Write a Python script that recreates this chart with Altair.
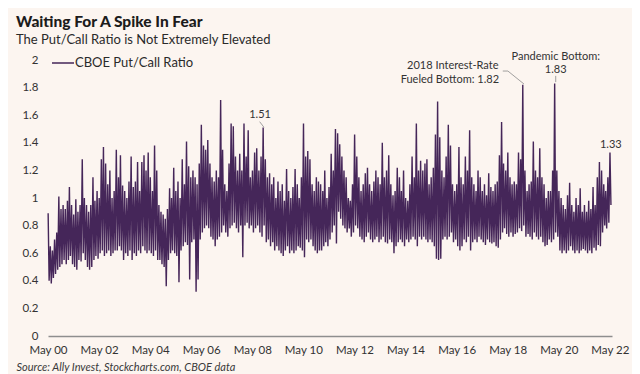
import altair as alt
import pandas as pd

# Monthly (high, low) pairs of the daily CBOE put/call ratio
y2000 = [0.89,0.40, 0.65,0.38, 0.62,0.42, 0.70,0.45, 0.75,0.48, 1.01,0.50, 0.92,0.52, 0.95,0.55]
y2001 = [0.92,0.52, 0.98,0.55, 1.08,0.58, 0.95,0.52, 0.88,0.50, 0.99,0.48, 0.90,0.55, 0.95,0.54, 1.28,0.60, 1.00,0.55, 0.95,0.50, 0.90,0.48]
y2002 = [0.95,0.50, 1.15,0.55, 0.98,0.58, 1.05,0.56, 1.00,0.60, 1.28,0.62, 1.37,0.58, 1.25,0.60, 1.10,0.62, 1.20,0.58, 1.00,0.60, 1.05,0.62]
y2003 = [1.35,0.62, 1.15,0.65, 1.31,0.62, 1.09,0.55, 1.05,0.60, 1.00,0.58, 1.12,0.62, 1.30,0.55, 1.08,0.60, 1.12,0.58, 1.26,0.62, 1.05,0.60]
y2004 = [1.26,0.65, 1.31,0.62, 1.20,0.60, 1.33,0.62, 1.15,0.60, 1.05,0.58, 1.38,0.62, 1.20,0.55, 0.95,0.55, 0.90,0.52, 0.88,0.50, 0.85,0.36]
y2005 = [0.92,0.55, 1.07,0.60, 1.00,0.62, 1.22,0.60, 1.05,0.58, 1.12,0.39, 1.00,0.62, 1.28,0.65, 1.10,0.68, 1.41,0.66, 1.23,0.41, 1.15,0.68]
y2006 = [1.20,0.70, 1.15,0.32, 1.10,0.41, 1.25,0.70, 1.53,0.75, 1.38,0.78, 1.35,0.80, 1.42,0.78, 1.25,0.72, 1.15,0.70, 1.12,0.65, 1.20,0.70]
y2007 = [1.15,0.72, 1.71,0.75, 1.35,0.80, 1.10,0.75, 1.05,0.72, 1.25,0.78, 1.54,0.80, 1.52,0.82, 1.30,0.78, 1.20,0.75, 1.32,0.80, 1.20,0.57]
y2008 = [1.54,0.80, 1.30,0.82, 1.49,0.78, 1.15,0.80, 1.20,0.75, 1.33,0.78, 1.36,0.80, 1.20,0.75, 1.30,0.72, 1.51,0.80, 1.28,0.68, 1.15,0.70]
y2009 = [1.18,0.65, 1.10,0.68, 1.15,0.62, 1.00,0.65, 1.12,0.62, 1.05,0.60, 1.10,0.58, 0.98,0.62, 1.21,0.65, 1.05,0.60, 1.00,0.62, 1.08,0.60]
y2010 = [1.21,0.62, 1.10,0.65, 1.00,0.64, 1.15,0.62, 1.54,0.57, 1.30,0.70, 1.34,0.68, 1.28,0.70, 1.10,0.65, 1.05,0.62, 1.15,0.60, 1.12,0.62]
y2011 = [1.10,0.62, 1.05,0.65, 1.20,0.68, 1.00,0.65, 1.08,0.70, 1.32,0.75, 1.20,0.80, 1.50,0.67, 1.47,0.90, 1.39,0.85, 1.30,0.80, 1.20,0.78]
y2012 = [1.15,0.75, 1.00,0.78, 0.98,0.72, 1.10,0.75, 1.46,0.80, 1.30,0.78, 1.15,0.72, 1.05,0.70, 1.10,0.68, 1.18,0.72, 1.22,0.75, 1.10,0.70]
y2013 = [1.05,0.68, 1.12,0.70, 1.20,0.72, 1.15,0.68, 1.10,0.70, 1.40,0.72, 1.15,0.68, 1.20,0.67, 1.31,0.70, 1.10,0.68, 1.02,0.60, 1.05,0.65]
y2014 = [1.22,0.68, 1.15,0.70, 1.05,0.68, 1.20,0.65, 1.00,0.70, 0.98,0.68, 1.10,0.70, 1.30,0.72, 1.15,0.70, 1.54,0.65, 1.20,0.72, 1.27,0.70]
y2015 = [1.20,0.72, 1.25,0.70, 1.28,0.68, 1.10,0.70, 1.15,0.68, 1.22,0.65, 1.46,0.56, 1.70,0.55, 1.44,0.56, 1.20,0.70, 1.15,0.72, 1.30,0.70]
y2016 = [1.53,0.72, 1.38,0.75, 1.10,0.68, 1.05,0.70, 1.10,0.65, 1.37,0.62, 1.15,0.65, 1.10,0.70, 1.30,0.68, 1.20,0.72, 1.49,0.62, 1.15,0.68]
y2017 = [1.10,0.70, 1.05,0.68, 1.20,0.72, 1.15,0.70, 1.05,0.68, 1.10,0.66, 1.02,0.70, 1.18,0.68, 1.08,0.67, 1.05,0.68, 1.10,0.65, 1.12,0.64]
y2018 = [1.31,0.70, 1.55,0.75, 1.25,0.78, 1.20,0.74, 1.33,0.72, 1.15,0.75, 1.10,0.72, 1.12,0.74, 1.10,0.75, 1.33,0.78, 1.28,0.76, 1.82,0.80]
y2019 = [1.20,0.72, 1.05,0.74, 1.10,0.72, 1.12,0.70, 1.41,0.75, 1.20,0.72, 1.15,0.70, 1.36,0.72, 1.15,0.68, 1.10,0.65, 1.00,0.66, 1.05,0.70]
y2020 = [1.05,0.68, 1.20,0.70, 1.83,0.75, 1.20,0.72, 1.05,0.62, 1.00,0.60, 0.95,0.62, 0.92,0.60, 1.02,0.62, 1.11,0.65, 0.95,0.62, 0.90,0.60]
y2021 = [1.00,0.62, 0.95,0.60, 1.07,0.62, 0.90,0.63, 0.95,0.62, 0.90,0.60, 0.98,0.62, 0.92,0.60, 1.08,0.64, 0.95,0.62, 1.15,0.66, 1.26,0.65]
y2022 = [1.20,0.75, 1.10,0.80, 1.05,0.78, 1.15,0.82, 1.33,0.95]

years = list(range(2000, 2023))
yearly = [y2000, y2001, y2002, y2003, y2004, y2005, y2006, y2007, y2008, y2009, y2010,
          y2011, y2012, y2013, y2014, y2015, y2016, y2017, y2018, y2019, y2020, y2021, y2022]
first_month = {2000: 5}

SERIES = "CBOE Put/Call Ratio"
rows = []
for yr, arr in zip(years, yearly):
    m0 = first_month.get(yr, 1)
    for i in range(0, len(arr), 2):
        m = m0 + i // 2
        rows.append({"date": f"{yr}-{m:02d}-03", "ratio": arr[i], "series": SERIES})
        rows.append({"date": f"{yr}-{m:02d}-17", "ratio": arr[i + 1], "series": SERIES})
df = pd.DataFrame(rows)

# Annotations
ann_text = ["1.51", "2018 Interest-Rate", "Fueled Bottom: 1.82", "Pandemic Bottom:", "1.83", "1.33"]
ann_date = ["2008-08-20", "2016-03-07", "2016-01-25", "2020-03-18", "2020-03-18", "2022-05-15"]
ann_val = [1.60, 1.955, 1.855, 2.02, 1.925, 1.385]
ann_df = pd.DataFrame({"text": ann_text, "date": ann_date, "value": ann_val})

lead_id = ["a", "a", "b", "b", "b", "c", "c"]
lead_date = ["2008-08-14", "2008-10-15", "2018-02-20", "2018-05-04", "2018-12-20", "2020-03-18", "2020-03-18"]
lead_val = [1.553, 1.512, 1.92, 1.92, 1.826, 1.885, 1.84]
lead_df = pd.DataFrame({"id": lead_id, "date": lead_date, "value": lead_val})

FONT = "Lato"
xdomain = [alt.DateTime(year=2000, month=5, date=1), alt.DateTime(year=2022, month=6, date=1)]
xticks = [alt.DateTime(year=y, month=5, date=1) for y in range(2000, 2023, 2)]
yticks = [0, 0.2, 0.4, 0.6, 0.8, 1.0, 1.2, 1.4, 1.6, 1.8, 2.0]

xscale = alt.Scale(domain=xdomain)
yscale = alt.Scale(domain=[0, 2], nice=False)

xaxis = alt.Axis(values=xticks, format="%b %y", labelFlush=False, ticks=False, grid=False,
                 domainColor="#8e8e8e", domainWidth=1.5, labelPadding=8,
                 labelFontSize=11.5, labelColor="#333333", labelFont=FONT,
                 labelOverlap=False,
                 title="Source: Ally Invest, Stockcharts.com, CBOE data",
                 titleFont=FONT, titleFontStyle="italic", titleFontWeight="normal",
                 titleFontSize=11, titleColor="#3a3a3a", titleAlign="left",
                 titleBaseline="alphabetic", titleX=-32, titleY=34)
yaxis = alt.Axis(values=yticks, format="~g", domain=False, ticks=False, grid=False,
                 labelOverlap=False, labelFlush=False,
                 labelPadding=10, labelFontSize=11.5, labelColor="#333333",
                 labelFont=FONT, title=None)

line = alt.Chart(df).mark_line(strokeWidth=1.4, opacity=0.95).encode(
    x=alt.X("date:T", scale=xscale, axis=xaxis),
    y=alt.Y("ratio:Q", scale=yscale, axis=yaxis),
    color=alt.Color("series:N", scale=alt.Scale(domain=[SERIES], range=["#3b1a50"]),
                    legend=alt.Legend(title=None, orient="none", legendX=3, legendY=-9,
                                      symbolType="stroke", symbolSize=484, symbolStrokeWidth=1.5,
                                      labelFontSize=13, labelFont=FONT, labelColor="#2a2a2a",
                                      labelOffset=0, padding=0)),
    order="date:T",
)

leaders = alt.Chart(lead_df).mark_line(strokeWidth=0.8, color="#8a8a8a").encode(
    x=alt.X("date:T", scale=xscale, axis=xaxis),
    y=alt.Y("value:Q", scale=yscale, axis=yaxis),
    detail="id:N",
)

labels = alt.Chart(ann_df).mark_text(font=FONT, fontSize=11, color="#333333", align="center",
                                     baseline="middle").encode(
    x=alt.X("date:T", scale=xscale, axis=xaxis),
    y=alt.Y("value:Q", scale=yscale, axis=yaxis),
    text="text:N",
)

chart = alt.layer(line, leaders, labels).properties(
    width=564, height=276,
    title=alt.TitleParams(
        "Waiting For A Spike In Fear",
        subtitle="The Put/Call Ratio is Not Extremely Elevated",
        anchor="start", frame="group", dx=-32,
        font=FONT, fontSize=15.5, fontWeight=900, color="#1c1c1c",
        subtitleFont=FONT, subtitleFontSize=13, subtitleColor="#2a2a2a", subtitlePadding=4,
        offset=4,
    ),
    autosize=alt.AutoSizeParams(type="none"),
    padding={"left": 40, "top": 52, "right": 20, "bottom": 38},
    background="#fcf5f0",
).configure_view(stroke=None).configure_axisY(labelOverlap=False)

chart.save("out.html", embed_options={"renderer": "svg", "actions": False})
